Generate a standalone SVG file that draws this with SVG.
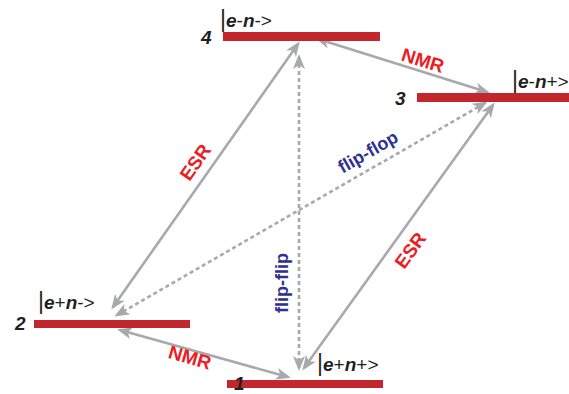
<svg xmlns="http://www.w3.org/2000/svg" width="569" height="394" viewBox="0 0 569 394">
<style>
.bar{fill:#c1272d}
.arr{stroke:#a7a9ac;stroke-width:2.6;fill:none;marker-start:url(#ah);marker-end:url(#ah)}
.dash{stroke-dasharray:4 3}
.ket{font-family:"Liberation Sans",Arial,sans-serif;font-size:19px;fill:#231f20}
.bi{font-weight:bold;font-style:italic}
.vb{font-size:23px}
.num{font-family:"Liberation Sans",Arial,sans-serif;font-size:19px;font-weight:bold;font-style:italic;fill:#231f20}
.red{font-family:"Liberation Sans",Arial,sans-serif;font-size:19px;font-weight:bold;fill:#ed1c24;text-anchor:middle}
.blue{font-family:"Liberation Sans",Arial,sans-serif;font-size:18px;font-weight:bold;fill:#2e3192;text-anchor:middle}
</style>
<defs>
<marker id="ah" markerUnits="userSpaceOnUse" markerWidth="16" markerHeight="14" viewBox="0 0 16 14" refX="12" refY="7" orient="auto-start-reverse">
<path d="M0,1 L15,7 L0,13 L4,7 z" fill="#a7a9ac"/>
</marker>
</defs>
<g id="connectors">
<line class="arr" x1="113" y1="307" x2="298" y2="44"/>
<line class="arr" x1="318" y1="39" x2="487" y2="92"/>
<line class="arr" x1="304" y1="368" x2="493" y2="105"/>
<line class="arr" x1="120" y1="330" x2="288" y2="377"/>
<line class="arr dash" x1="299" y1="57" x2="299" y2="368"/>
<line class="arr dash" x1="117" y1="315" x2="485" y2="103"/>
<text class="red" transform="translate(195,162) rotate(-55)" y="7">ESR</text>
<text class="red" transform="translate(410,250) rotate(-54)" y="7">ESR</text>
<text class="red" transform="translate(423,60) rotate(17)" y="7">NMR</text>
<text class="red" transform="translate(190,357) rotate(16)" y="7">NMR</text>
<text class="blue" transform="translate(368,152) rotate(-30)" y="6">flip-flop</text>
<text class="blue" transform="translate(282,283) rotate(-90)" y="6">flip-flip</text>
</g>
<g id="level4">
<rect class="bar" x="223" y="32" width="157" height="9"/>
<text class="num" x="201" y="44">4</text>
<text class="ket" x="220" y="27"><tspan class="vb">|</tspan><tspan class="bi">e</tspan>-<tspan class="bi">n</tspan>-&gt;</text>
</g>
<g id="level3">
<rect class="bar" x="417" y="93" width="152" height="9"/>
<text class="num" x="395" y="105">3</text>
<text class="ket" x="512" y="88"><tspan class="vb">|</tspan><tspan class="bi">e</tspan>-<tspan class="bi">n</tspan>+&gt;</text>
</g>
<g id="level2">
<rect class="bar" x="34" y="320" width="156" height="8"/>
<text class="num" x="15" y="330">2</text>
<text class="ket" x="38" y="309"><tspan class="vb">|</tspan><tspan class="bi">e</tspan>+<tspan class="bi">n</tspan>-&gt;</text>
</g>
<g id="level1">
<rect class="bar" x="227" y="380" width="156" height="8"/>
<text class="num" x="234" y="390">1</text>
<text class="ket" x="317" y="371"><tspan class="vb">|</tspan><tspan class="bi">e</tspan>+<tspan class="bi">n</tspan>+&gt;</text>
</g>
</svg>
